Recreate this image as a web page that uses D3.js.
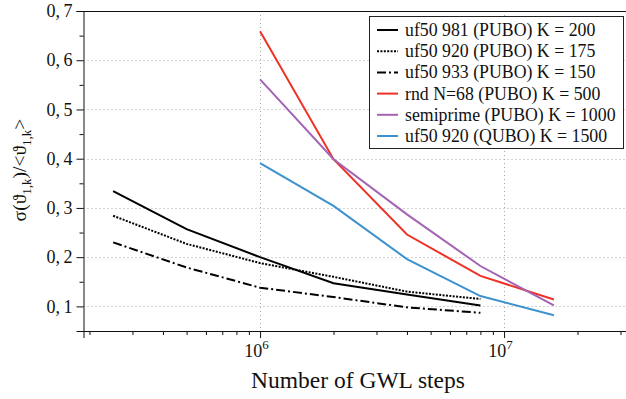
<!DOCTYPE html>
<html>
<head>
<meta charset="utf-8">
<script src="https://cdn.jsdelivr.net/npm/d3@7"></script>
<style>
  body { margin: 0; background: #fff; }
</style>
</head>
<body>
<div id="chart"></div>
<script>
// GWL steps (x) and the relative spread of each run
var steps = [ 2.5e5, 5e5, 1e6, 2e6, 4e6, 8e6, 1.6e7 ];

var uf50_981_pubo = [ 0.334, 0.257, 0.200, 0.147, 0.124, 0.102 ];
var uf50_920_pubo = [ 0.284, 0.227, 0.188, 0.160, 0.130, 0.115 ];
var uf50_933_pubo = [ 0.230, 0.179, 0.138, 0.119, 0.098, 0.087 ];
var rnd68_pubo = [ 0.659, 0.399, 0.246, 0.162, 0.114 ];
var semiprime_pubo = [ 0.561, 0.399, 0.287, 0.182, 0.102 ];
var uf50_920_qubo = [ 0.391, 0.304, 0.196, 0.121, 0.082 ];

var seriesNames = [
  'uf50 981 (PUBO) K = 200',
  'uf50 920 (PUBO) K = 175',
  'uf50 933 (PUBO) K = 150',
  'rnd N=68 (PUBO) K = 500',
  'semiprime (PUBO) K = 1000',
  'uf50 920 (QUBO) K = 1500'
];

var yMajor = [ 0.1, 0.2, 0.3, 0.4, 0.5, 0.6, 0.7 ];
var yMinor = [ 0.05, 0.15, 0.25, 0.35, 0.45, 0.55, 0.65 ];
var xMajor = [ 1e6, 1e7 ];
var xMinor = [ 2e5, 3e5, 4e5, 5e5, 6e5, 7e5, 8e5, 9e5,
  2e6, 3e6, 4e6, 5e6, 6e6, 7e6, 8e6, 9e6, 2e7, 3e7 ];

var chart = ( function() {

  var width = 626, height = 399,
    left = 83.5, right = 626, top = 11, bottom = 331;

  var serif = 'Liberation Serif';

  var xScale = d3.scaleLog().domain( [ 1.89e5, 3.16e7 ] ).range( [ left, right ] ),
    yScale = d3.scaleLinear().domain( [ 0.05, 0.7 ] ).range( [ bottom, top ] );

  var styles = [
    { color: '#000', dash: null },
    { color: '#000', dash: '2,1.4' },
    { color: '#000', dash: '9,3,2,3' },
    { color: '#ee3124', dash: null },
    { color: '#a463b3', dash: null },
    { color: '#3b92cc', dash: null }
  ];

  function draw() {

    var series = [
      { name: seriesNames[ 0 ], x: steps.slice( 0, 6 ), y: uf50_981_pubo },
      { name: seriesNames[ 1 ], x: steps.slice( 0, 6 ), y: uf50_920_pubo },
      { name: seriesNames[ 2 ], x: steps.slice( 0, 6 ), y: uf50_933_pubo },
      { name: seriesNames[ 3 ], x: steps.slice( 2 ), y: rnd68_pubo },
      { name: seriesNames[ 4 ], x: steps.slice( 2 ), y: semiprime_pubo },
      { name: seriesNames[ 5 ], x: steps.slice( 2 ), y: uf50_920_qubo }
    ];

    var svg = d3.select( '#chart' ).append( 'svg' )
      .attr( 'width', width )
      .attr( 'height', height );

    // grid
    var grid = svg.append( 'g' )
      .attr( 'stroke', '#a8a8a8' )
      .attr( 'stroke-width', 1 )
      .attr( 'stroke-dasharray', '1,3' );

    grid.selectAll( '.hgrid' )
      .data( yMajor.slice( 0, 6 ) )
      .enter()
      .append( 'line' )
        .attr( 'x1', left ).attr( 'x2', right )
        .attr( 'y1', d => Math.round( yScale( d ) ) + 0.5 )
        .attr( 'y2', d => Math.round( yScale( d ) ) + 0.5 );

    grid.selectAll( '.vgrid' )
      .data( xMajor )
      .enter()
      .append( 'line' )
        .attr( 'y1', top ).attr( 'y2', bottom )
        .attr( 'x1', d => Math.round( xScale( d ) ) + 0.5 )
        .attr( 'x2', d => Math.round( xScale( d ) ) + 0.5 );

    // lines
    var line = d3.line()
      .x( d => xScale( d[ 0 ] ) )
      .y( d => yScale( d[ 1 ] ) );

    svg.append( 'g' ).selectAll( 'path' )
      .data( series )
      .enter()
      .append( 'path' )
        .attr( 'fill', 'none' )
        .attr( 'stroke', ( d, i ) => styles[ i ].color )
        .attr( 'stroke-width', 2 )
        .attr( 'stroke-dasharray', ( d, i ) => styles[ i ].dash )
        .attr( 'd', d => line( d.x.map( ( x, j ) => [ x, d.y[ j ] ] ) ) );

    // axes
    var yAxis = svg.append( 'g' )
      .attr( 'transform', 'translate(' + left + ',0)' )
      .call( d3.axisLeft( yScale ).tickValues( yMajor ).tickSize( 7 ).tickPadding( 4 )
        .tickFormat( d => d3.format( '.1f' )( d ).replace( '.', ',\u2009' ) ) );
    yAxis.attr( 'font-family', serif ).attr( 'font-size', 18 );
    yAxis.selectAll( 'text' ).attr( 'fill', '#111' );

    svg.append( 'g' )
      .attr( 'transform', 'translate(' + left + ',0)' )
      .call( d3.axisLeft( yScale ).tickValues( yMinor ).tickSize( 4 ).tickFormat( '' ) )
      .select( '.domain' ).remove();

    var xAxis = svg.append( 'g' )
      .attr( 'transform', 'translate(0,' + bottom + ')' )
      .call( d3.axisBottom( xScale ).tickValues( xMajor ).tickSize( 7 ).tickFormat( '' ) );
    xAxis.attr( 'font-family', serif ).attr( 'font-size', 18 );

    xAxis.selectAll( '.tick' ).append( 'text' )
      .attr( 'y', 26 )
      .attr( 'x', -4 )
      .attr( 'text-anchor', 'middle' )
      .attr( 'fill', '#111' )
      .text( '10' )
      .append( 'tspan' )
        .attr( 'dy', -8 )
        .attr( 'font-size', 13 )
        .text( d => Math.round( Math.log10( d ) ) );

    svg.append( 'g' )
      .attr( 'transform', 'translate(0,' + bottom + ')' )
      .call( d3.axisBottom( xScale ).tickValues( xMinor ).tickSize( 4 ).tickFormat( '' ) )
      .select( '.domain' ).remove();

    svg.selectAll( '.domain, .tick line' ).attr( 'stroke', '#111' );

    // top spine
    svg.append( 'line' )
      .attr( 'x1', left ).attr( 'x2', right )
      .attr( 'y1', top + 0.5 ).attr( 'y2', top + 0.5 )
      .attr( 'stroke', '#111' );

    // axis titles
    svg.append( 'text' )
      .attr( 'x', 358 )
      .attr( 'y', 388 )
      .attr( 'text-anchor', 'middle' )
      .attr( 'font-family', serif )
      .attr( 'font-size', 23.5 )
      .attr( 'fill', '#111' )
      .text( 'Number of GWL steps' );

    var yTitle = svg.append( 'text' )
      .attr( 'transform', 'translate(26,170) rotate(-90)' )
      .attr( 'text-anchor', 'middle' )
      .attr( 'font-family', serif )
      .attr( 'font-size', 19.5 )
      .attr( 'fill', '#111' );
    yTitle.append( 'tspan' ).text( 'σ(ϑ' );
    yTitle.append( 'tspan' ).attr( 'dy', 5 ).attr( 'font-size', 13 ).text( '1,k' );
    yTitle.append( 'tspan' ).attr( 'dy', -5 ).text( ')/<ϑ' );
    yTitle.append( 'tspan' ).attr( 'dy', 5 ).attr( 'font-size', 13 ).text( '1,k' );
    yTitle.append( 'tspan' ).attr( 'dy', -5 ).text( '>' );

    // legend
    var legend = svg.append( 'g' );

    legend.append( 'rect' )
      .attr( 'x', 369.5 ).attr( 'y', 16.5 )
      .attr( 'width', 254 ).attr( 'height', 132 )
      .attr( 'fill', '#fff' )
      .attr( 'stroke', '#222' );

    var rows = legend.selectAll( '.row' )
      .data( series )
      .enter()
      .append( 'g' )
        .attr( 'transform', ( d, i ) => 'translate(0,' + ( 30 + i * 21.2 ) + ')' );

    rows.append( 'line' )
      .attr( 'x1', 377 ).attr( 'x2', 398 )
      .attr( 'stroke', ( d, i ) => styles[ i ].color )
      .attr( 'stroke-width', 2 )
      .attr( 'stroke-dasharray', ( d, i ) => styles[ i ].dash );

    rows.append( 'text' )
      .attr( 'x', 405 )
      .attr( 'y', 6 )
      .attr( 'font-family', serif )
      .attr( 'font-size', 17.8 )
      .attr( 'fill', '#111' )
      .text( d => d.name );

  }

  return { draw: draw };
} )();

chart.draw();
</script>
</body>
</html>
